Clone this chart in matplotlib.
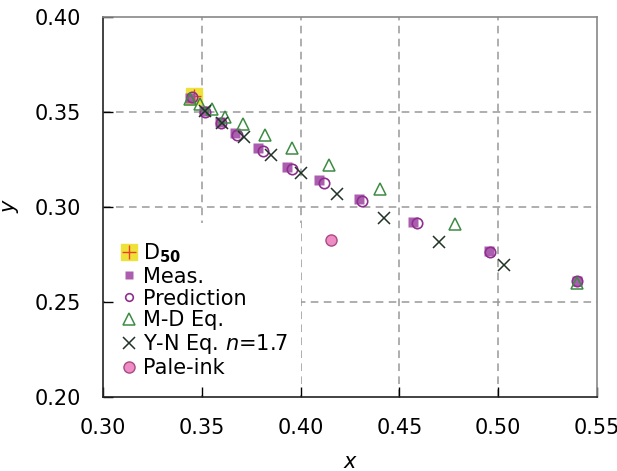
import matplotlib
matplotlib.use("Agg")
import matplotlib.pyplot as plt
from matplotlib.patches import Rectangle

plt.rcParams['font.family'] = ['DejaVu Sans']
plt.rcParams['mathtext.fontset'] = 'dejavusans'

# data
d50_x = [0.3458]
d50_y = [0.3584]

meas_x = [0.3438, 0.3509, 0.3590, 0.3670, 0.3785, 0.3932, 0.4091, 0.4296, 0.4567, 0.4951, 0.5401]
meas_y = [0.3572, 0.3505, 0.3447, 0.3388, 0.3312, 0.3209, 0.3142, 0.3042, 0.2923, 0.2768, 0.2611]

pred_x = [0.3450, 0.3518, 0.3597, 0.3678, 0.3810, 0.3958, 0.4118, 0.4313, 0.4589, 0.4956, 0.5401]
pred_y = [0.3578, 0.3502, 0.3444, 0.3379, 0.3296, 0.3200, 0.3128, 0.3032, 0.2917, 0.2763, 0.2609]

md_x = [0.3438, 0.3489, 0.3552, 0.3619, 0.3709, 0.3819, 0.3958, 0.4144, 0.4401, 0.4782, 0.5401]
md_y = [0.3568, 0.3540, 0.3514, 0.3475, 0.3437, 0.3379, 0.3312, 0.3221, 0.3093, 0.2911, 0.2602]

yn_x = [0.3518, 0.3603, 0.3716, 0.3848, 0.4000, 0.4186, 0.4420, 0.4699, 0.5029]
yn_y = [0.3507, 0.3441, 0.3367, 0.3274, 0.3177, 0.3068, 0.2941, 0.2814, 0.2695]

pale_x = [0.4152]
pale_y = [0.2826]

x_ticks = [0.30, 0.35, 0.40, 0.45, 0.50, 0.55]
y_ticks = [0.20, 0.25, 0.30, 0.35, 0.40]

fig = plt.figure(figsize=(6.17, 4.71), dpi=100)
ax = fig.add_axes([103 / 617, 1 - 397 / 471, 494 / 617, 380 / 471])

# dashed grid, drawn by hand so the legend patch can hide part of it
for gx in x_ticks[1:-1]:
    ax.axvline(gx, color='#999999', lw=1.1, ls=(0, (5, 3.5)), zorder=0.5)
for gy in y_ticks[1:-1]:
    ax.axhline(gy, color='#999999', lw=1.1, ls=(0, (5, 3.5)), zorder=0.5)

# white area behind the legend
ax.add_patch(Rectangle((0.004, 0.004), 0.396, 0.454, transform=ax.transAxes,
                       facecolor='white', edgecolor='none', zorder=1))

h_d50a, = ax.plot(d50_x, d50_y, 's', ms=11, color='#eee23a', mec='#eee23a', zorder=2)
h_d50b, = ax.plot(d50_x, d50_y, '+', ms=10, color='#e8402a', mew=1.0, zorder=2)
h_meas, = ax.plot(meas_x, meas_y, 's', ms=6.5, color='#a24ca6', alpha=0.9, mec='none', zorder=2)
h_pred, = ax.plot(pred_x, pred_y, 'o', ms=7.5, mfc='none', mec='#8e2f8e', mew=1.2, zorder=2)
h_md, = ax.plot(md_x, md_y, '^', ms=9, mfc='none', mec='#3d8b45', mew=1.1, zorder=2)
h_yn, = ax.plot(yn_x, yn_y, 'x', ms=9, color='#1f3326', mew=1.1, zorder=2)
h_pale, = ax.plot(pale_x, pale_y, 'o', ms=8, mfc='#f08cc4', mec='#a84a86', mew=1.0, zorder=2)

ax.set_xlim(0.30, 0.55)
ax.set_ylim(0.20, 0.40)
ax.set_xticks(x_ticks)
ax.set_yticks(y_ticks)
ax.set_xticklabels(['%.2f' % v for v in x_ticks])
ax.set_yticklabels(['%.2f' % v for v in y_ticks])
ax.tick_params(direction='in', length=7, width=1, labelsize=15, top=False, right=False)
ax.tick_params(axis='x', pad=15)
ax.tick_params(axis='y', pad=16)
for s in ['top', 'right']:
    ax.spines[s].set_color('#888888')
for s in ['left', 'bottom']:
    ax.spines[s].set_color('#222222')
for s in ax.spines.values():
    s.set_linewidth(1.2)
    s.set_zorder(3)

ax.set_xlabel('x', fontsize=15, style='italic')
ax.set_ylabel('y', fontsize=15, style='italic')
ax.xaxis.set_label_coords(0.5, -0.145)
ax.yaxis.set_label_coords(-0.17, 0.5)

leg = ax.legend([(h_d50a, h_d50b), h_meas, h_pred, h_md, h_yn, h_pale],
                [r'D$_{\mathbf{50}}$', 'Meas.', 'Prediction', 'M-D Eq.',
                 'Y-N Eq. $n$=1.7', 'Pale-ink'],
                loc='upper left', bbox_to_anchor=(0.036, 0.41), frameon=False,
                fontsize=15, handlelength=0.75, handletextpad=0.33,
                labelspacing=0.09, borderpad=0, borderaxespad=0)
leg.legend_handles[2].set_markersize(5.5)
leg.legend_handles[1].set_markersize(6)

fig.savefig('out.png', dpi=100)
